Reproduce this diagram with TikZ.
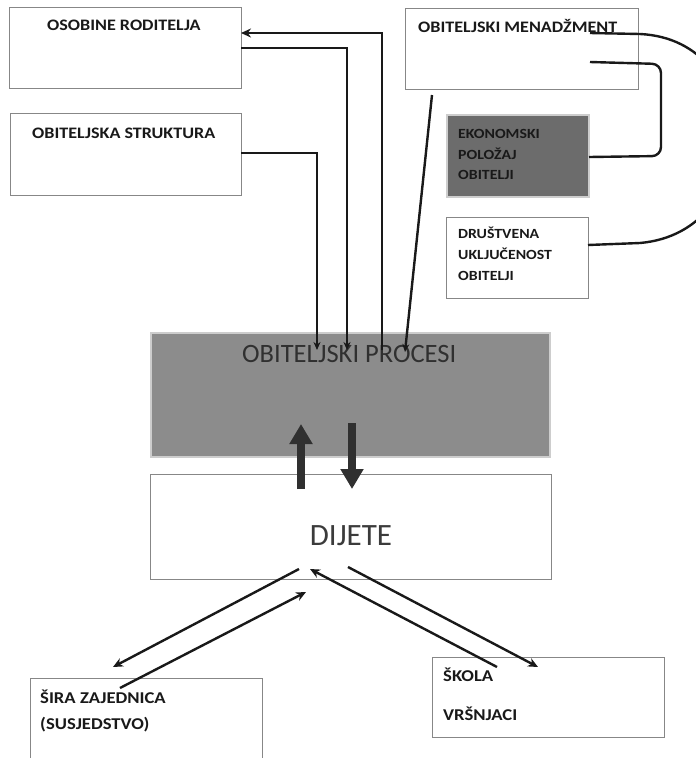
\documentclass[tikz,border=0pt]{standalone}
\usepackage{fontspec}
\setmainfont{Carlito}
\newfontfamily\widefont{Carlito}[FakeStretch=1.13]
\usepackage{tikz}
\usetikzlibrary{arrows.meta}
\usetikzlibrary{calc}

\definecolor{boxline}{RGB}{135,135,135}
\definecolor{procfill}{RGB}{140,140,140}
\definecolor{ekofill}{RGB}{108,108,108}
\definecolor{paleline}{RGB}{205,205,205}
\definecolor{ink}{RGB}{25,25,25}

\begin{document}
\begin{tikzpicture}[x=1pt, y=-1pt,
        box_style/.style={rectangle,draw=boxline,line width=1pt,fill=white,inner sep=0pt,outer sep=0pt},
        grey_box_style/.style={rectangle,draw=paleline,line width=2.5pt,fill=procfill,inner sep=0pt,outer sep=0pt},
        dark_box_style/.style={rectangle,draw=paleline,line width=2.5pt,fill=ekofill,inner sep=0pt,outer sep=0pt},
        label_style/.style={anchor=base west,inner sep=0pt,text=ink,font=\widefont\fontsize{16}{19}\selectfont\bfseries},
        small_label_style/.style={anchor=base west,inner sep=0pt,text=ink,font=\widefont\fontsize{14}{17}\selectfont\bfseries},
        low_label_style/.style={anchor=base west,inner sep=0pt,text=ink,font=\widefont\fontsize{16.5}{20}\selectfont\bfseries},
        edge_style/.style={draw=ink, line width=2.4pt,-{Stealth[length=10pt,width=9pt]}},
        in_edge_style/.style={draw=ink, line width=2.4pt,-{Stealth[length=8pt,width=7pt]}},
        plain_edge_style/.style={draw=ink, line width=2.4pt},
        big_edge_style/.style={draw=ink!90, line width=7.5pt,-{Triangle[length=20pt,width=22pt]}}]

        \useasboundingbox (0,0) rectangle (696,758);

        % boxes
        \node [box_style, minimum width=232pt, minimum height=81pt](osobine) at (125,47.5) {};

        \node [box_style, minimum width=231pt, minimum height=82pt](struktura) at (125.5,154) {};

        \node [box_style, minimum width=233pt, minimum height=81pt](menadzment) at (521.5,48.5) {};

        \node [dark_box_style, minimum width=142pt, minimum height=82pt](ekonomski) at (518,156) {};

        \node [box_style, minimum width=142pt, minimum height=81pt](drustvena) at (517,257.5) {};

        \node [grey_box_style, minimum width=399pt, minimum height=124pt](procesi) at (350.5,395) {};

        \node [box_style, minimum width=401pt, minimum height=105pt](dijete) at (350.5,526.5) {};

        \node [box_style, minimum width=232pt, minimum height=110pt](zajednica) at (146,733) {};

        \node [box_style, minimum width=232pt, minimum height=80pt](skola) at (548,697) {};

        % texts
        \node [label_style](t_osobine) at (47,30) {OSOBINE RODITELJA};
        \node [label_style](t_struktura) at (32,138) {OBITELJSKA STRUKTURA};
        \node [label_style](t_menadzment) at (418,32) {OBITELJSKI MENADŽMENT};

        \node [small_label_style](t_eko1) at (458,138) {EKONOMSKI};
        \node [small_label_style](t_eko2) at (458,159) {POLOŽAJ};
        \node [small_label_style](t_eko3) at (458,179) {OBITELJI};

        \node [small_label_style](t_dru1) at (458,238) {DRUŠTVENA};
        \node [small_label_style](t_dru2) at (458,259) {UKLJUČENOST};
        \node [small_label_style](t_dru3) at (458,280) {OBITELJI};

        \node [anchor=base west,inner sep=0pt,text=ink!90,font=\fontsize{26.5}{30}\selectfont](t_procesi) at (242,362) {OBITELJSKI PROCESI};
        \node [anchor=base,inner sep=0pt,text=ink!85,font=\fontsize{31}{34}\selectfont](t_dijete) at (351,545) {DIJETE};

        \node [low_label_style](t_zaj1) at (40,703) {ŠIRA ZAJEDNICA};
        \node [low_label_style](t_zaj2) at (40,729) {(SUSJEDSTVO)};
        \node [low_label_style](t_sko1) at (443,681) {ŠKOLA};
        \node [low_label_style](t_sko2) at (443,720) {VRŠNJACI};

        % free ends
        \coordinate (in_a) at (317,350);
        \coordinate (in_b) at (347,350);
        \coordinate (in_c) at (382,350);
        \coordinate (in_d) at (405,352);
        \coordinate (m_low) at (432,95);
        \coordinate (m_top) at (590,33);
        \coordinate (m_mid) at (590,62);
        \coordinate (up_tail) at (301,489);
        \coordinate (up_tip) at (301,424);
        \coordinate (down_tail) at (352,423);
        \coordinate (down_tip) at (352,489);
        \coordinate (d_a) at (299,569);
        \coordinate (z_head) at (113,667);
        \coordinate (z_tail) at (120,688);
        \coordinate (d_b) at (306,592);
        \coordinate (s_tail) at (497,667);
        \coordinate (d_c) at (310,569);
        \coordinate (d_d) at (348,567);
        \coordinate (s_head) at (538,667);

        % connectors
        \draw [in_edge_style] (struktura.east |- 0,153) -| (in_a);

        \draw [in_edge_style] (osobine.east |- 0,48) -| (in_b);

        \draw [edge_style] (in_c) |- (osobine.east |- 0,33);

        \draw [in_edge_style] (m_low) -- (in_d);

        \draw [plain_edge_style] (m_top) -- (640,34) .. controls (765,40) and (765,232) .. (640,243) -- (drustvena.east |- 0,245);

        \draw [plain_edge_style, rounded corners=9pt] (m_mid) -- (661,64) -- (661,156) -- (ekonomski.east |- 0,157);

        \draw [big_edge_style] (up_tail) -- (up_tip);

        \draw [big_edge_style] (down_tail) -- (down_tip);

        \draw [edge_style] (d_a) -- (z_head);

        \draw [edge_style] (z_tail) -- (d_b);

        \draw [edge_style] (s_tail) -- (d_c);

        \draw [edge_style] (d_d) -- (s_head);

        \end{tikzpicture}
\end{document}
